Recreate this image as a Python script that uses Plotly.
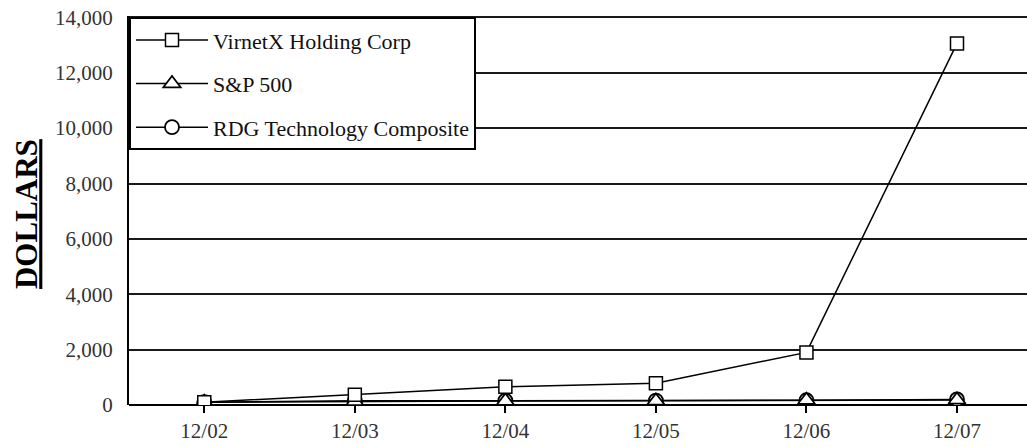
import plotly.graph_objects as go

categories = ["12/02", "12/03", "12/04", "12/05", "12/06", "12/07"]
virnetx = [100, 370, 660, 790, 1900, 13060]
sp500 = [100, 128, 142, 149, 172, 182]
rdg_tech = [100, 150, 155, 158, 172, 200]
y_ticks = [0, 2000, 4000, 6000, 8000, 10000, 12000, 14000]
y_tick_labels = ["0", "2,000", "4,000", "6,000", "8,000", "10,000", "12,000", "14,000"]

FONT = "'Liberation Serif', 'Times New Roman', serif"
x_idx = list(range(len(categories)))

fig = go.Figure()
fig.add_trace(go.Scatter(
    x=x_idx, y=rdg_tech, name="RDG Technology Composite", mode="lines+markers",
    line=dict(color="black", width=1.5),
    marker=dict(symbol="circle", size=14, color="white", line=dict(color="black", width=1.8)),
    legendgroup="c", legendrank=3))
fig.add_trace(go.Scatter(
    x=x_idx, y=sp500, name="S&P 500", mode="lines+markers",
    line=dict(color="black", width=1.5),
    marker=dict(symbol="triangle-up", size=15, color="white", line=dict(color="black", width=1.8)),
    legendgroup="b", legendrank=2))
fig.add_trace(go.Scatter(
    x=x_idx, y=virnetx, name="VirnetX Holding Corp", mode="lines+markers",
    line=dict(color="black", width=1.5),
    marker=dict(symbol="square", size=13, color="white", line=dict(color="black", width=1.5)),
    legendgroup="a", legendrank=1))

fig.update_layout(
    width=1027, height=447,
    margin=dict(l=129, r=0, t=16, b=42),
    paper_bgcolor="white", plot_bgcolor="white",
    font=dict(family=FONT, color="#222", size=21),
    showlegend=True,
    legend=dict(
        x=0, y=0.997, xanchor="left", yanchor="top",
        bgcolor="white", bordercolor="black", borderwidth=2,
        font=dict(family=FONT, size=22, color="#111"),
        tracegroupgap=12, traceorder="grouped",
        itemwidth=72,
    ),
    xaxis=dict(
        range=[-0.5, 5.465], tickmode="array", tickvals=x_idx, ticktext=categories,
        showgrid=False, zeroline=False, showline=False, automargin=False,
        ticks="outside", ticklen=7, tickwidth=2, tickcolor="black",
        tickfont=dict(family=FONT, size=21, color="#333"),
    ),
    yaxis=dict(
        range=[0, 14050], tickmode="array", tickvals=y_ticks, ticktext=y_tick_labels,
        showgrid=True, gridcolor="#1a1a1a", gridwidth=2, automargin=False,
        zeroline=True, zerolinecolor="black", zerolinewidth=2,
        showline=True, linecolor="black", linewidth=2,
        ticks="", ticklabelstandoff=10, ticklabeloverflow="allow",
        tickfont=dict(family=FONT, size=21, color="#333"),
    ),
    annotations=[dict(
        text="<b><u>DOLLARS</u></b>", textangle=-90,
        xref="paper", yref="paper", x=-0.114, y=0.49, xanchor="center", yanchor="middle",
        showarrow=False, font=dict(family=FONT, size=31, color="black"),
    )],
)

fig.write_html("out.html", config={"displayModeBar": False},
               post_script="document.body.style.margin='0';")
